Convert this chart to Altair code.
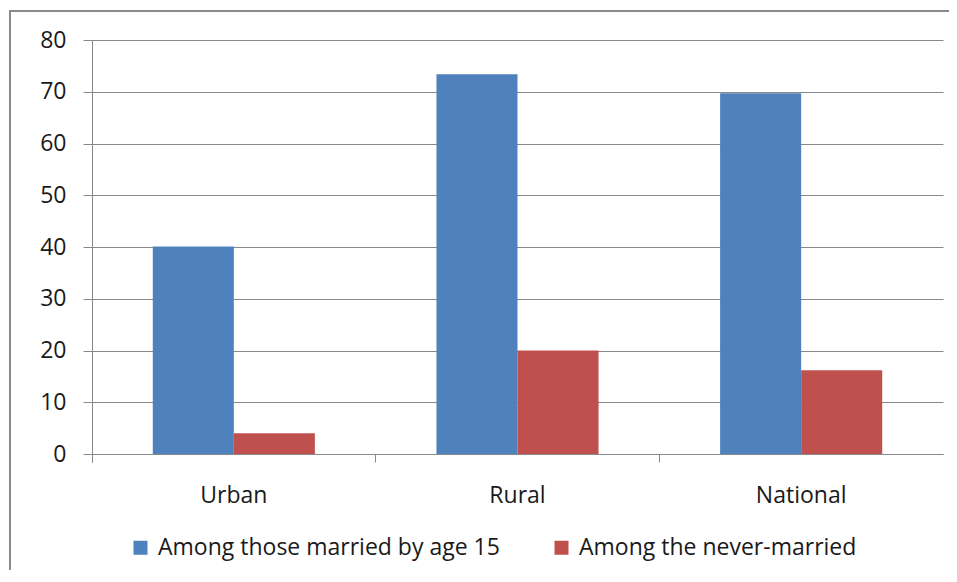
import altair as alt
import pandas as pd

regions = ["Urban", "Rural", "National"]
series = ["Among those married by age 15", "Among the never-married"]
married_by_15 = [40.1, 73.4, 69.7]
never_married = [4.0, 20.0, 16.2]
colors = ["#4F81BD", "#C0504D"]
y_ticks = [0, 10, 20, 30, 40, 50, 60, 70, 80]

rows = []
for i, r in enumerate(regions):
    rows.append({"region": r, "series": series[0], "value": married_by_15[i]})
    rows.append({"region": r, "series": series[1], "value": never_married[i]})
df = pd.DataFrame(rows)

FONT = "Open Sans"
GRID = "#898989"
TXT = "#1a1a1a"
W, H = 851, 414

bars = alt.Chart(df).mark_bar().encode(
    x=alt.X("region:N", sort=regions,
            scale=alt.Scale(paddingInner=0, paddingOuter=0),
            axis=alt.Axis(title=None, labelAngle=0, bandPosition=0, tickExtra=True,
                          ticks=True, tickSize=8, tickColor=GRID, domainColor=GRID,
                          grid=False, labelFont=FONT, labelFontSize=23,
                          labelColor=TXT, labelPadding=22)),
    xOffset=alt.XOffset("series:N", sort=series,
                        scale=alt.Scale(paddingInner=0, paddingOuter=0.75)),
    y=alt.Y("value:Q", scale=alt.Scale(domain=[0, 80], nice=False),
            axis=alt.Axis(title=None, values=y_ticks, grid=True, gridColor=GRID,
                          gridOpacity=1, tickSize=9, tickColor=GRID, domainColor=GRID,
                          labelFont=FONT, labelFontSize=23, labelColor=TXT,
                          labelPadding=17)),
    color=alt.Color("series:N", sort=series,
                    scale=alt.Scale(domain=series, range=colors),
                    legend=alt.Legend(title=None, orient="none", legendX=37, legendY=496,
                                      direction="horizontal", symbolType="square",
                                      symbolSize=196, symbolStrokeWidth=0,
                                      labelFont=FONT, labelFontSize=23,
                                      labelColor=TXT, labelOffset=6,
                                      columnPadding=50, labelLimit=600)),
)

frame = alt.Chart(pd.DataFrame({"a": [0]})).mark_rect(
    fillOpacity=0, stroke="#8a8a8a", strokeWidth=2, clip=False
).encode(
    x=alt.value(-82), x2=alt.value(W + 200),
    y=alt.value(-29), y2=alt.value(H + 300),
)

chart = alt.layer(frame, bars).properties(
    width=W, height=H,
    autosize=alt.AutoSizeParams(type="none"),
    padding={"left": 84, "top": 32, "right": 6, "bottom": 116},
).configure_view(stroke=None)

chart.save("out.html", embed_options={"renderer": "svg", "actions": False})
